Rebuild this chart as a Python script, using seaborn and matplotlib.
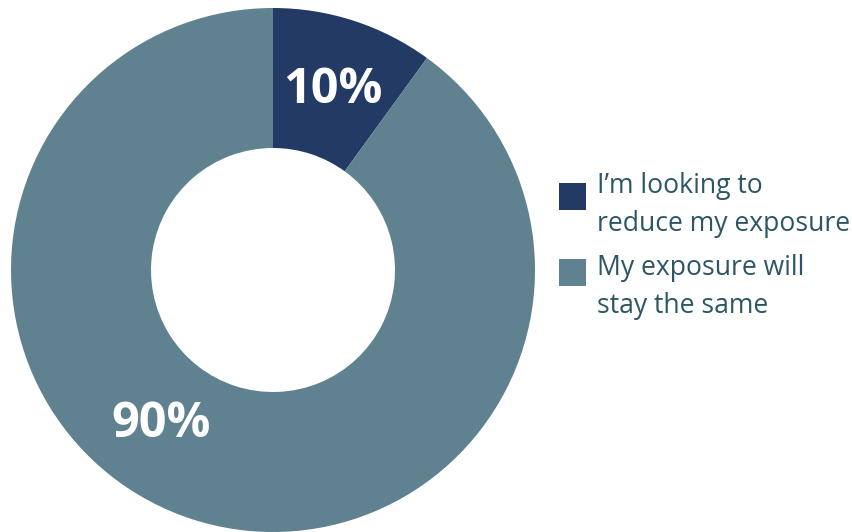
import numpy as np
import matplotlib
matplotlib.use("Agg")
import matplotlib.pyplot as plt
from matplotlib.patches import Rectangle
import seaborn as sns

# Survey answers and their shares (percent)
answers = ["I\u2019m looking to\nreduce my exposure", "My exposure will\nstay the same"]
shares = [10, 90]
colors = ["#233a64", "#5f8190"]
# Angle (degrees clockwise from 12 o'clock) where each value label sits
label_angles = [18.5, 216]

sns.set_theme(style="white")
plt.rcParams["font.family"] = ["Open Sans", "DejaVu Sans"]

W, H = 853, 532
fig = plt.figure(figsize=(W / 100, H / 100), dpi=100)
fig.patch.set_facecolor("white")

# Donut
cx, cy, R = 273, 270, 262
ax = fig.add_axes([(cx - R) / W, (H - cy - R) / H, 2 * R / W, 2 * R / H])
ax.pie(shares, colors=colors, startangle=90, counterclock=False, radius=1,
       wedgeprops=dict(width=1 - 122 / 262, linewidth=0))
ax.set_xlim(-1, 1)
ax.set_ylim(-1, 1)
ax.set_aspect("equal")
ax.axis("off")

label_r = [0.722, 0.73]
for share, ang, r in zip(shares, label_angles, label_r):
    t = np.deg2rad(ang)
    ax.text(r * np.sin(t), r * np.cos(t), f"{share}%", ha="center", va="center",
            color="white", fontsize=35, fontweight="bold", fontstretch="normal")

# Legend drawn in pixel coordinates
lg = fig.add_axes([0, 0, 1, 1])
lg.set_xlim(0, W)
lg.set_ylim(H, 0)
lg.axis("off")
box_top = [183, 259]
first_baseline = [193.5, 275]
line_gap = 37.5
for answer, col, top, base in zip(answers, colors, box_top, first_baseline):
    lg.add_patch(Rectangle((559, top), 27, 27, facecolor=col, edgecolor="none"))
    for i, line in enumerate(answer.split("\n")):
        lg.text(597, base + i * line_gap, line, ha="left", va="baseline",
                fontsize=19.1, color="#2d5566")

fig.savefig("out.png", dpi=100, facecolor="white")
